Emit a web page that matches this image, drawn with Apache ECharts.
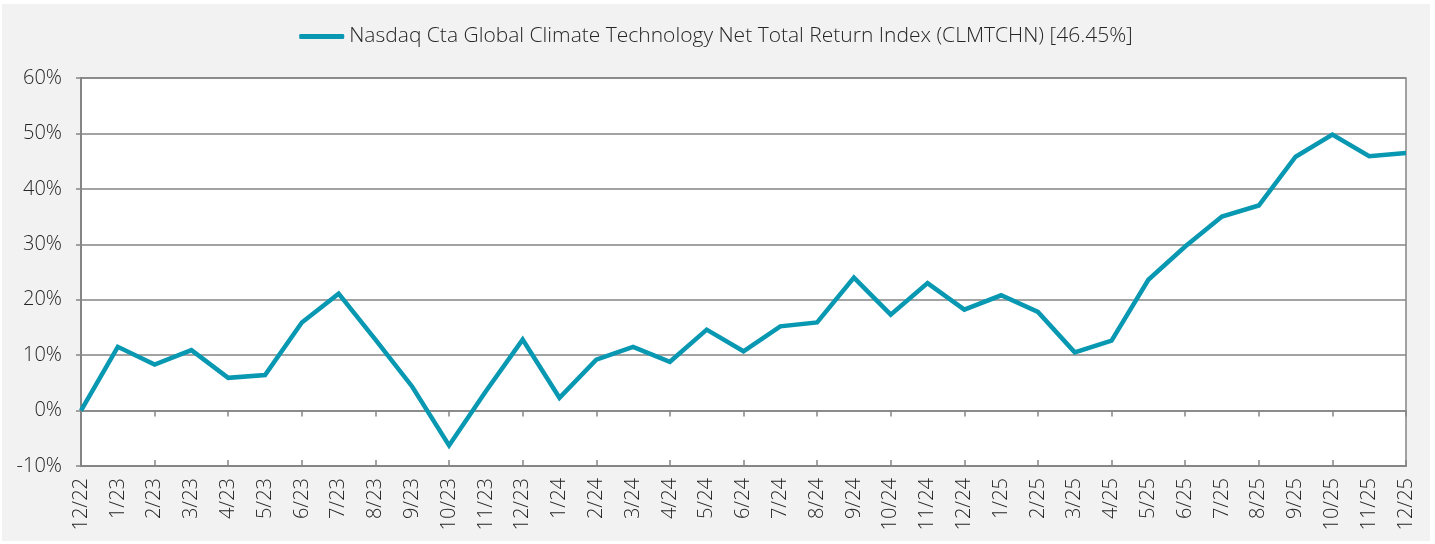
<!DOCTYPE html>
<html lang="en">
  <head>
    <meta charset="UTF-8" />
    <title>CLMTCHN cumulative return</title>
    <script src="https://cdn.jsdelivr.net/npm/echarts@6.0.0/dist/echarts.min.js"></script>
    <style>
      body { margin: 0; background: #ffffff; }
      #main { position: absolute; left: 2px; top: 4px; width: 1428px; height: 537px; background: #f2f2f2; }
    </style>
  </head>
  <body>
    <div id="main"></div>
    <script>
      // month labels, 12/22 .. 12/25
      const months = [
        "12/22", "1/23", "2/23", "3/23", "4/23", "5/23", "6/23", "7/23", "8/23", "9/23", "10/23", "11/23", "12/23",
        "1/24", "2/24", "3/24", "4/24", "5/24", "6/24", "7/24", "8/24", "9/24", "10/24", "11/24", "12/24",
        "1/25", "2/25", "3/25", "4/25", "5/25", "6/25", "7/25", "8/25", "9/25", "10/25", "11/25", "12/25"
      ];

      // cumulative net total return, %
      const clmtchn = [
        0, 11.5, 8.3, 10.9, 5.9, 6.4, 15.9, 21.1, 12.8, 4.3, -6.3, 3.5, 12.8,
        2.3, 9.2, 11.5, 8.8, 14.6, 10.7, 15.2, 15.9, 24.0, 17.3, 23.0, 18.2,
        20.8, 17.8, 10.5, 12.6, 23.6, 29.6, 35.0, 37.0, 45.8, 49.8, 45.9, 46.45
      ];

      const seriesName = "Nasdaq Cta Global Climate Technology Net Total Return Index (CLMTCHN) [46.45%]";

      const font = "'Open Sans', sans-serif";
      const textColor = "#262626";
      const axisGray = "#858585";

      let myChart = echarts.init(document.getElementById("main"));

      let options = {
        animation: false,
        textStyle: { fontFamily: font },
        legend: {
          top: 17,
          left: "center",
          itemWidth: 45,
          itemHeight: 5,
          icon: "roundRect",
          textStyle: { fontSize: 21, fontWeight: 300, color: textColor, fontFamily: font },
          data: [seriesName],
        },
        grid: {
          left: 79,
          top: 74,
          width: 1325,
          height: 388,
          show: true,
          backgroundColor: "#ffffff",
          borderColor: axisGray,
          borderWidth: 1.5,
        },
        xAxis: [
          {
            // labels at the bottom of the plot
            type: "category",
            data: months,
            boundaryGap: false,
            position: "bottom",
            axisLine: { onZero: false, lineStyle: { color: axisGray, width: 1.5 } },
            axisTick: { show: false },
            axisLabel: {
              rotate: 90,
              margin: 12,
              fontSize: 20,
              fontWeight: 300,
              color: textColor,
              fontFamily: font,
            },
          },
          {
            // zero line with ticks going down
            type: "category",
            data: months,
            boundaryGap: false,
            position: "bottom",
            axisLine: { onZero: true, lineStyle: { color: axisGray, width: 1.5 } },
            axisTick: { show: true, length: 6, lineStyle: { color: axisGray, width: 1.5 } },
            axisLabel: { show: false },
          },
          {
            // same ticks going up
            type: "category",
            data: months,
            boundaryGap: false,
            position: "bottom",
            axisLine: { onZero: true, lineStyle: { color: axisGray, width: 1.5 } },
            axisTick: { show: true, inside: true, length: 6, lineStyle: { color: axisGray, width: 1.5 } },
            axisLabel: { show: false },
          },
        ],
        yAxis: {
          type: "value",
          min: -10,
          max: 60,
          interval: 10,
          axisLine: { show: true, lineStyle: { color: axisGray, width: 2 } },
          axisTick: { show: true, length: 5, lineStyle: { color: axisGray, width: 1.5 } },
          splitLine: { lineStyle: { color: axisGray, width: 1.5 } },
          axisLabel: {
            formatter: "{value}%",
            margin: 19,
            fontSize: 20,
            fontWeight: 300,
            color: textColor,
            fontFamily: font,
          },
        },
        series: [
          {
            name: seriesName,
            type: "line",
            xAxisIndex: 0,
            data: clmtchn,
            symbol: "none",
            smooth: false,
            color: "#0898b1",
            lineStyle: { width: 4.5, color: "#0898b1", join: "miter" },
          },
        ],
      };

      myChart.setOption(options);
    </script>
  </body>
</html>
